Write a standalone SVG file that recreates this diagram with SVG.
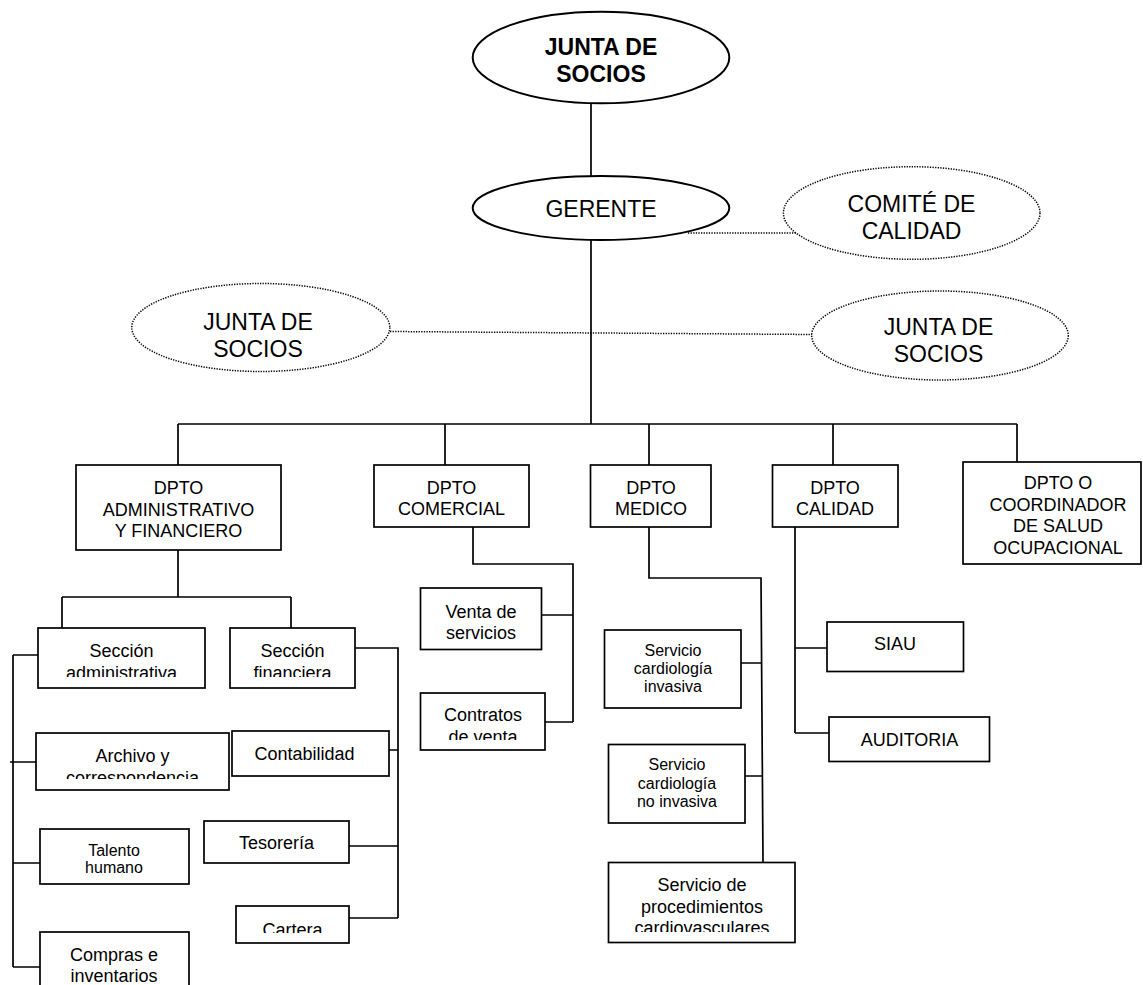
<svg xmlns="http://www.w3.org/2000/svg" width="1143" height="985" viewBox="0 0 1143 985">
<style>
text{font-family:"Liberation Sans",Arial,sans-serif;fill:#000;text-anchor:middle}
.e{font-size:23px}
.b{font-weight:bold}
.m{font-size:18px}
.s{font-size:16px}
.box{fill:#fff;stroke:#000;stroke-width:1.7}
.ell{fill:#fff;stroke:#000;stroke-width:2}
.dot{fill:#fff;stroke:#000;stroke-width:1.5;stroke-dasharray:1.3 1.3}
.ln{fill:none;stroke:#000;stroke-width:1.7}
.dl{fill:none;stroke:#000;stroke-width:1.5;stroke-dasharray:1.3 1.3}
</style>
<defs>
<clipPath id="c1"><rect x="38" y="628" width="167" height="49"/></clipPath>
<clipPath id="c2"><rect x="230" y="628" width="125" height="49"/></clipPath>
<clipPath id="c3"><rect x="36" y="733" width="193" height="46"/></clipPath>
<clipPath id="c4"><rect x="236" y="906" width="113" height="27"/></clipPath>
<clipPath id="c5"><rect x="420" y="693" width="125" height="47"/></clipPath>
<clipPath id="c6"><rect x="608" y="862" width="187" height="70"/></clipPath>
</defs>
<g id="connectors">
<path class="ln" d="M591 103V176M591 240V424M178 424H1017M178 424V465M445 424V465M649 424V465M833 424V465M1017 424V462"/>
<path class="ln" d="M178 550V597M62 597H291M62 597V628M291 597V628"/>
<path class="ln" d="M13 655V967M13 655H38M10 762H36M13 863H40M13 967H40"/>
<path class="ln" d="M355 648H398V918M389 750H398M349 846H398M349 918H398"/>
<path class="ln" d="M473 527V564H573V722M541 615H573M545 722H573"/>
<path class="ln" d="M649 527V578H761L763 862M741 663H762M745 776H762"/>
<path class="ln" d="M795 527V733M795 648H827M795 733H829"/>
<path class="dl" d="M688 233H796M390 331.5L812 334.5"/>
</g>
<g id="junta-top"><ellipse class="ell" cx="601" cy="57.5" rx="128.3" ry="45.8"/><text class="e b" x="601" y="55">JUNTA DE</text><text class="e b" x="601" y="82">SOCIOS</text></g>
<g id="gerente"><ellipse class="ell" cx="601" cy="208" rx="128.3" ry="32"/><text class="e" x="601" y="216.5">GERENTE</text></g>
<g id="comite"><ellipse class="dot" cx="911.7" cy="213" rx="128.3" ry="46.3"/><text class="e" x="911.5" y="212">COMITÉ DE</text><text class="e" x="911.5" y="239">CALIDAD</text></g>
<g id="junta-left"><ellipse class="dot" cx="260.8" cy="327.5" rx="129" ry="44"/><text class="e" x="258" y="330">JUNTA DE</text><text class="e" x="258" y="357">SOCIOS</text></g>
<g id="junta-right"><ellipse class="dot" cx="940" cy="335.5" rx="128.3" ry="44.5"/><text class="e" x="938.5" y="335">JUNTA DE</text><text class="e" x="938.5" y="362">SOCIOS</text></g>
<g id="dpto-admin"><rect class="box" x="76" y="465" width="205" height="85"/><text class="m" x="178.5" y="494">DPTO</text><text class="m" x="178.5" y="515.5">ADMINISTRATIVO</text><text class="m" x="178.5" y="537">Y FINANCIERO</text></g>
<g id="dpto-comercial"><rect class="box" x="374" y="465" width="155" height="62"/><text class="m" x="451.5" y="494">DPTO</text><text class="m" x="451.5" y="515">COMERCIAL</text></g>
<g id="dpto-medico"><rect class="box" x="590.5" y="465" width="120.5" height="62"/><text class="m" x="651" y="494">DPTO</text><text class="m" x="651" y="515">MEDICO</text></g>
<g id="dpto-calidad"><rect class="box" x="772.5" y="465" width="125.5" height="62"/><text class="m" x="835" y="494">DPTO</text><text class="m" x="835" y="515">CALIDAD</text></g>
<g id="dpto-salud"><rect class="box" x="963" y="462" width="178" height="102"/><text class="m" x="1058" y="489">DPTO O</text><text class="m" x="1058" y="511">COORDINADOR</text><text class="m" x="1058" y="532">DE SALUD</text><text class="m" x="1058" y="554">OCUPACIONAL</text></g>
<g id="seccion-admin"><rect class="box" x="38" y="628" width="167" height="60"/><g clip-path="url(#c1)"><text class="m" x="121.5" y="657">Sección</text><text class="m" x="121.5" y="678.5">administrativa</text></g></g>
<g id="seccion-fin"><rect class="box" x="230" y="628" width="125" height="60"/><g clip-path="url(#c2)"><text class="m" x="292.5" y="657">Sección</text><text class="m" x="292.5" y="678.5">financiera</text></g></g>
<g id="archivo"><rect class="box" x="36" y="733" width="193" height="57"/><g clip-path="url(#c3)"><text class="m" x="132.5" y="762">Archivo y</text><text class="m" x="132.5" y="783.5">correspondencia</text></g></g>
<g id="contabilidad"><rect class="box" x="232" y="731" width="157" height="45"/><text class="m" x="304.5" y="760">Contabilidad</text></g>
<g id="talento"><rect class="box" x="40" y="829" width="149" height="55"/><text class="s" x="114" y="856">Talento</text><text class="s" x="114" y="873">humano</text></g>
<g id="tesoreria"><rect class="box" x="204" y="821" width="145" height="42"/><text class="m" x="276.5" y="849">Tesorería</text></g>
<g id="cartera"><rect class="box" x="236" y="906" width="113" height="37"/><g clip-path="url(#c4)"><text class="m" x="292.5" y="936">Cartera</text></g></g>
<g id="compras"><rect class="box" x="40" y="932" width="149" height="70"/><text class="m" x="114" y="961">Compras e</text><text class="m" x="114" y="982">inventarios</text></g>
<g id="venta"><rect class="box" x="420.5" y="588" width="121" height="61.5"/><text class="m" x="481" y="617.5">Venta de</text><text class="m" x="481" y="639">servicios</text></g>
<g id="contratos"><rect class="box" x="420.5" y="693" width="124.5" height="57"/><g clip-path="url(#c5)"><text class="m" x="483" y="721">Contratos</text><text class="m" x="483" y="742.5">de venta</text></g></g>
<g id="serv-invasiva"><rect class="box" x="604.5" y="630" width="136.5" height="78"/><text class="s" x="673" y="656">Servicio</text><text class="s" x="673" y="674">cardiología</text><text class="s" x="673" y="692">invasiva</text></g>
<g id="serv-noinvasiva"><rect class="box" x="608.5" y="744.5" width="136.5" height="78.5"/><text class="s" x="677" y="770">Servicio</text><text class="s" x="677" y="788.5">cardiología</text><text class="s" x="677" y="807">no invasiva</text></g>
<g id="serv-proc"><rect class="box" x="608.5" y="862.5" width="186.5" height="80"/><g clip-path="url(#c6)"><text class="m" x="702" y="891">Servicio de</text><text class="m" x="702" y="912.5">procedimientos</text><text class="m" x="702" y="934">cardiovasculares</text></g></g>
<g id="siau"><rect class="box" x="827" y="622" width="136.5" height="49.5"/><text class="m" x="895" y="649.5">SIAU</text></g>
<g id="auditoria"><rect class="box" x="829" y="717" width="160.5" height="44.5"/><text class="m" x="909.5" y="746">AUDITORIA</text></g>
</svg>
